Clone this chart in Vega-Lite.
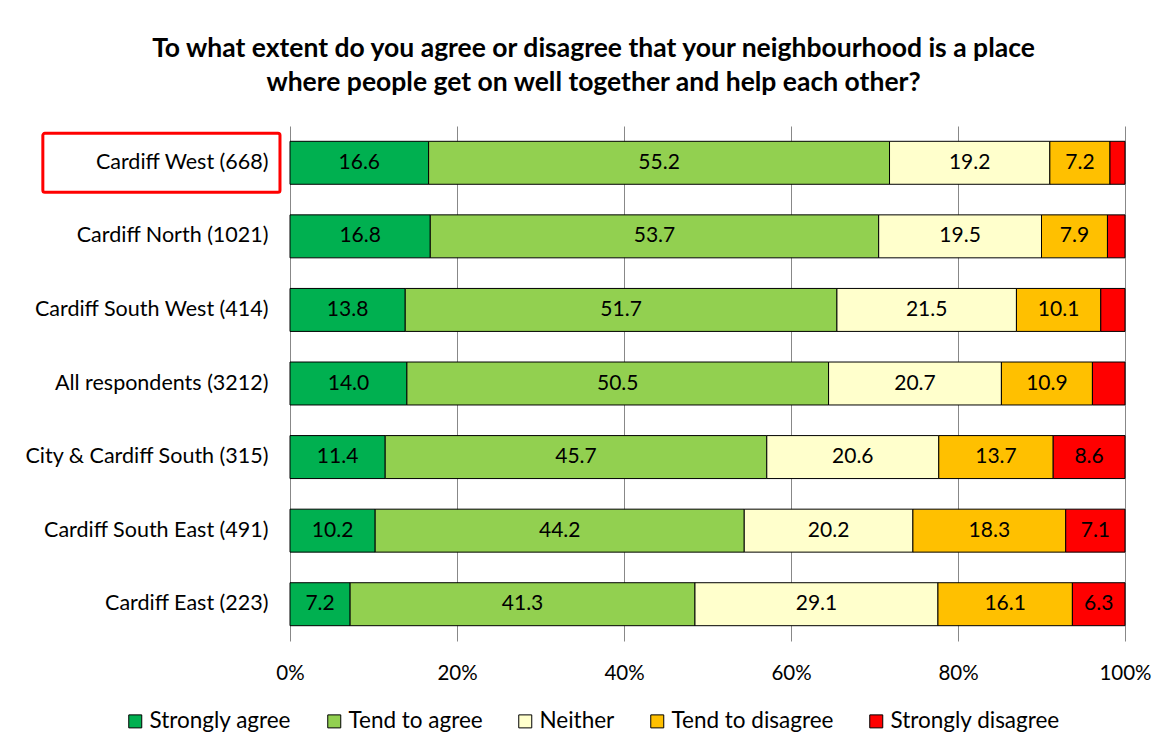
{
  "$schema": "https://vega.github.io/schema/vega-lite/v6.json",
  "width": 835,
  "height": 515,
  "autosize": {"type": "none"},
  "padding": {"left": 290, "top": 126, "right": 32, "bottom": 114},
  "background": "white",
  "config": {"view": {"stroke": null}, "font": "Lato"},
  "title": {
    "text": ["To what extent do you agree or disagree that your neighbourhood is a place", "where people get on well together and help each other?"],
    "font": "Lato", "fontSize": 26.5, "fontWeight": "bold", "color": "black",
    "anchor": "middle", "dx": -114, "offset": 30, "lineHeight": 34
  },
  "data": {"values": [
    {"area": "Cardiff West (668)", "response": "Strongly agree", "rank": 1, "value": 16.6},
    {"area": "Cardiff West (668)", "response": "Tend to agree", "rank": 2, "value": 55.2},
    {"area": "Cardiff West (668)", "response": "Neither", "rank": 3, "value": 19.2},
    {"area": "Cardiff West (668)", "response": "Tend to disagree", "rank": 4, "value": 7.2},
    {"area": "Cardiff West (668)", "response": "Strongly disagree", "rank": 5, "value": 1.8},
    {"area": "Cardiff North (1021)", "response": "Strongly agree", "rank": 1, "value": 16.8},
    {"area": "Cardiff North (1021)", "response": "Tend to agree", "rank": 2, "value": 53.7},
    {"area": "Cardiff North (1021)", "response": "Neither", "rank": 3, "value": 19.5},
    {"area": "Cardiff North (1021)", "response": "Tend to disagree", "rank": 4, "value": 7.9},
    {"area": "Cardiff North (1021)", "response": "Strongly disagree", "rank": 5, "value": 2.1},
    {"area": "Cardiff South West (414)", "response": "Strongly agree", "rank": 1, "value": 13.8},
    {"area": "Cardiff South West (414)", "response": "Tend to agree", "rank": 2, "value": 51.7},
    {"area": "Cardiff South West (414)", "response": "Neither", "rank": 3, "value": 21.5},
    {"area": "Cardiff South West (414)", "response": "Tend to disagree", "rank": 4, "value": 10.1},
    {"area": "Cardiff South West (414)", "response": "Strongly disagree", "rank": 5, "value": 2.9},
    {"area": "All respondents (3212)", "response": "Strongly agree", "rank": 1, "value": 14.0},
    {"area": "All respondents (3212)", "response": "Tend to agree", "rank": 2, "value": 50.5},
    {"area": "All respondents (3212)", "response": "Neither", "rank": 3, "value": 20.7},
    {"area": "All respondents (3212)", "response": "Tend to disagree", "rank": 4, "value": 10.9},
    {"area": "All respondents (3212)", "response": "Strongly disagree", "rank": 5, "value": 3.9},
    {"area": "City & Cardiff South (315)", "response": "Strongly agree", "rank": 1, "value": 11.4},
    {"area": "City & Cardiff South (315)", "response": "Tend to agree", "rank": 2, "value": 45.7},
    {"area": "City & Cardiff South (315)", "response": "Neither", "rank": 3, "value": 20.6},
    {"area": "City & Cardiff South (315)", "response": "Tend to disagree", "rank": 4, "value": 13.7},
    {"area": "City & Cardiff South (315)", "response": "Strongly disagree", "rank": 5, "value": 8.6},
    {"area": "Cardiff South East (491)", "response": "Strongly agree", "rank": 1, "value": 10.2},
    {"area": "Cardiff South East (491)", "response": "Tend to agree", "rank": 2, "value": 44.2},
    {"area": "Cardiff South East (491)", "response": "Neither", "rank": 3, "value": 20.2},
    {"area": "Cardiff South East (491)", "response": "Tend to disagree", "rank": 4, "value": 18.3},
    {"area": "Cardiff South East (491)", "response": "Strongly disagree", "rank": 5, "value": 7.1},
    {"area": "Cardiff East (223)", "response": "Strongly agree", "rank": 1, "value": 7.2},
    {"area": "Cardiff East (223)", "response": "Tend to agree", "rank": 2, "value": 41.3},
    {"area": "Cardiff East (223)", "response": "Neither", "rank": 3, "value": 29.1},
    {"area": "Cardiff East (223)", "response": "Tend to disagree", "rank": 4, "value": 16.1},
    {"area": "Cardiff East (223)", "response": "Strongly disagree", "rank": 5, "value": 6.3}
  ]},
  "transform": [
    {"stack": "value", "groupby": ["area"], "sort": [{"field": "rank", "order": "ascending"}], "as": ["v1", "v2"]}
  ],
  "encoding": {
    "y": {
      "field": "area", "type": "nominal",
      "sort": ["Cardiff West (668)", "Cardiff North (1021)", "Cardiff South West (414)", "All respondents (3212)", "City & Cardiff South (315)", "Cardiff South East (491)", "Cardiff East (223)"],
      "scale": {"paddingInner": 0.2, "paddingOuter": 0.1},
      "axis": {"title": null, "domain": false, "ticks": false, "labelPadding": 22, "labelFont": "Lato", "labelFontSize": 21.5, "labelColor": "black", "labelLimit": 400}
    }
  },
  "layer": [
    {
      "mark": {"type": "bar", "stroke": "black", "strokeWidth": 1, "height": {"band": 0.73}},
      "encoding": {
        "x": {
          "field": "v1", "type": "quantitative",
          "scale": {"domain": [0, 100], "nice": false},
          "axis": {"title": null, "values": [0, 20, 40, 60, 80, 100], "labelExpr": "datum.value + '%'", "grid": true, "gridColor": "#888888", "gridWidth": 1, "domain": false, "ticks": false, "labelPadding": 22, "labelFont": "Lato", "labelFontSize": 20.5, "labelColor": "black", "labelFlush": false}
        },
        "x2": {"field": "v2"},
        "color": {
          "field": "response", "type": "nominal",
          "scale": {"domain": ["Strongly agree", "Tend to agree", "Neither", "Tend to disagree", "Strongly disagree"], "range": ["#00B050", "#92D050", "#FFFFCC", "#FFC000", "#FF0000"]},
          "legend": {"orient": "none", "legendX": -166, "legendY": 584, "direction": "horizontal", "title": null, "symbolType": "square", "symbolSize": 169, "symbolStrokeColor": "black", "symbolStrokeWidth": 1, "symbolOpacity": 1, "labelFont": "Lato", "labelFontSize": 22.5, "labelColor": "black", "labelLimit": 400, "columnPadding": 31, "labelOffset": 3, "padding": 0}
        }
      }
    },
    {
      "transform": [
        {"filter": "datum.value >= 5"},
        {"fold": ["v1", "v2"], "as": ["edge", "pos"]}
      ],
      "mark": {"type": "text", "font": "Lato", "fontSize": 21, "color": "black", "align": "center", "baseline": "middle"},
      "encoding": {
        "x": {"field": "pos", "aggregate": "mean", "type": "quantitative"},
        "detail": {"field": "response", "type": "nominal"},
        "text": {"field": "value", "type": "quantitative", "format": ".1f"}
      }
    },
    {
      "transform": [{"filter": "datum.area === 'Cardiff West (668)' && datum.rank === 1"}],
      "mark": {"type": "rect", "filled": false, "stroke": "#FF0000", "strokeWidth": 3, "cornerRadius": 2},
      "encoding": {
        "x": {"datum": -29.6, "type": "quantitative"},
        "x2": {"datum": -1.2}
      }
    }
  ]
}
